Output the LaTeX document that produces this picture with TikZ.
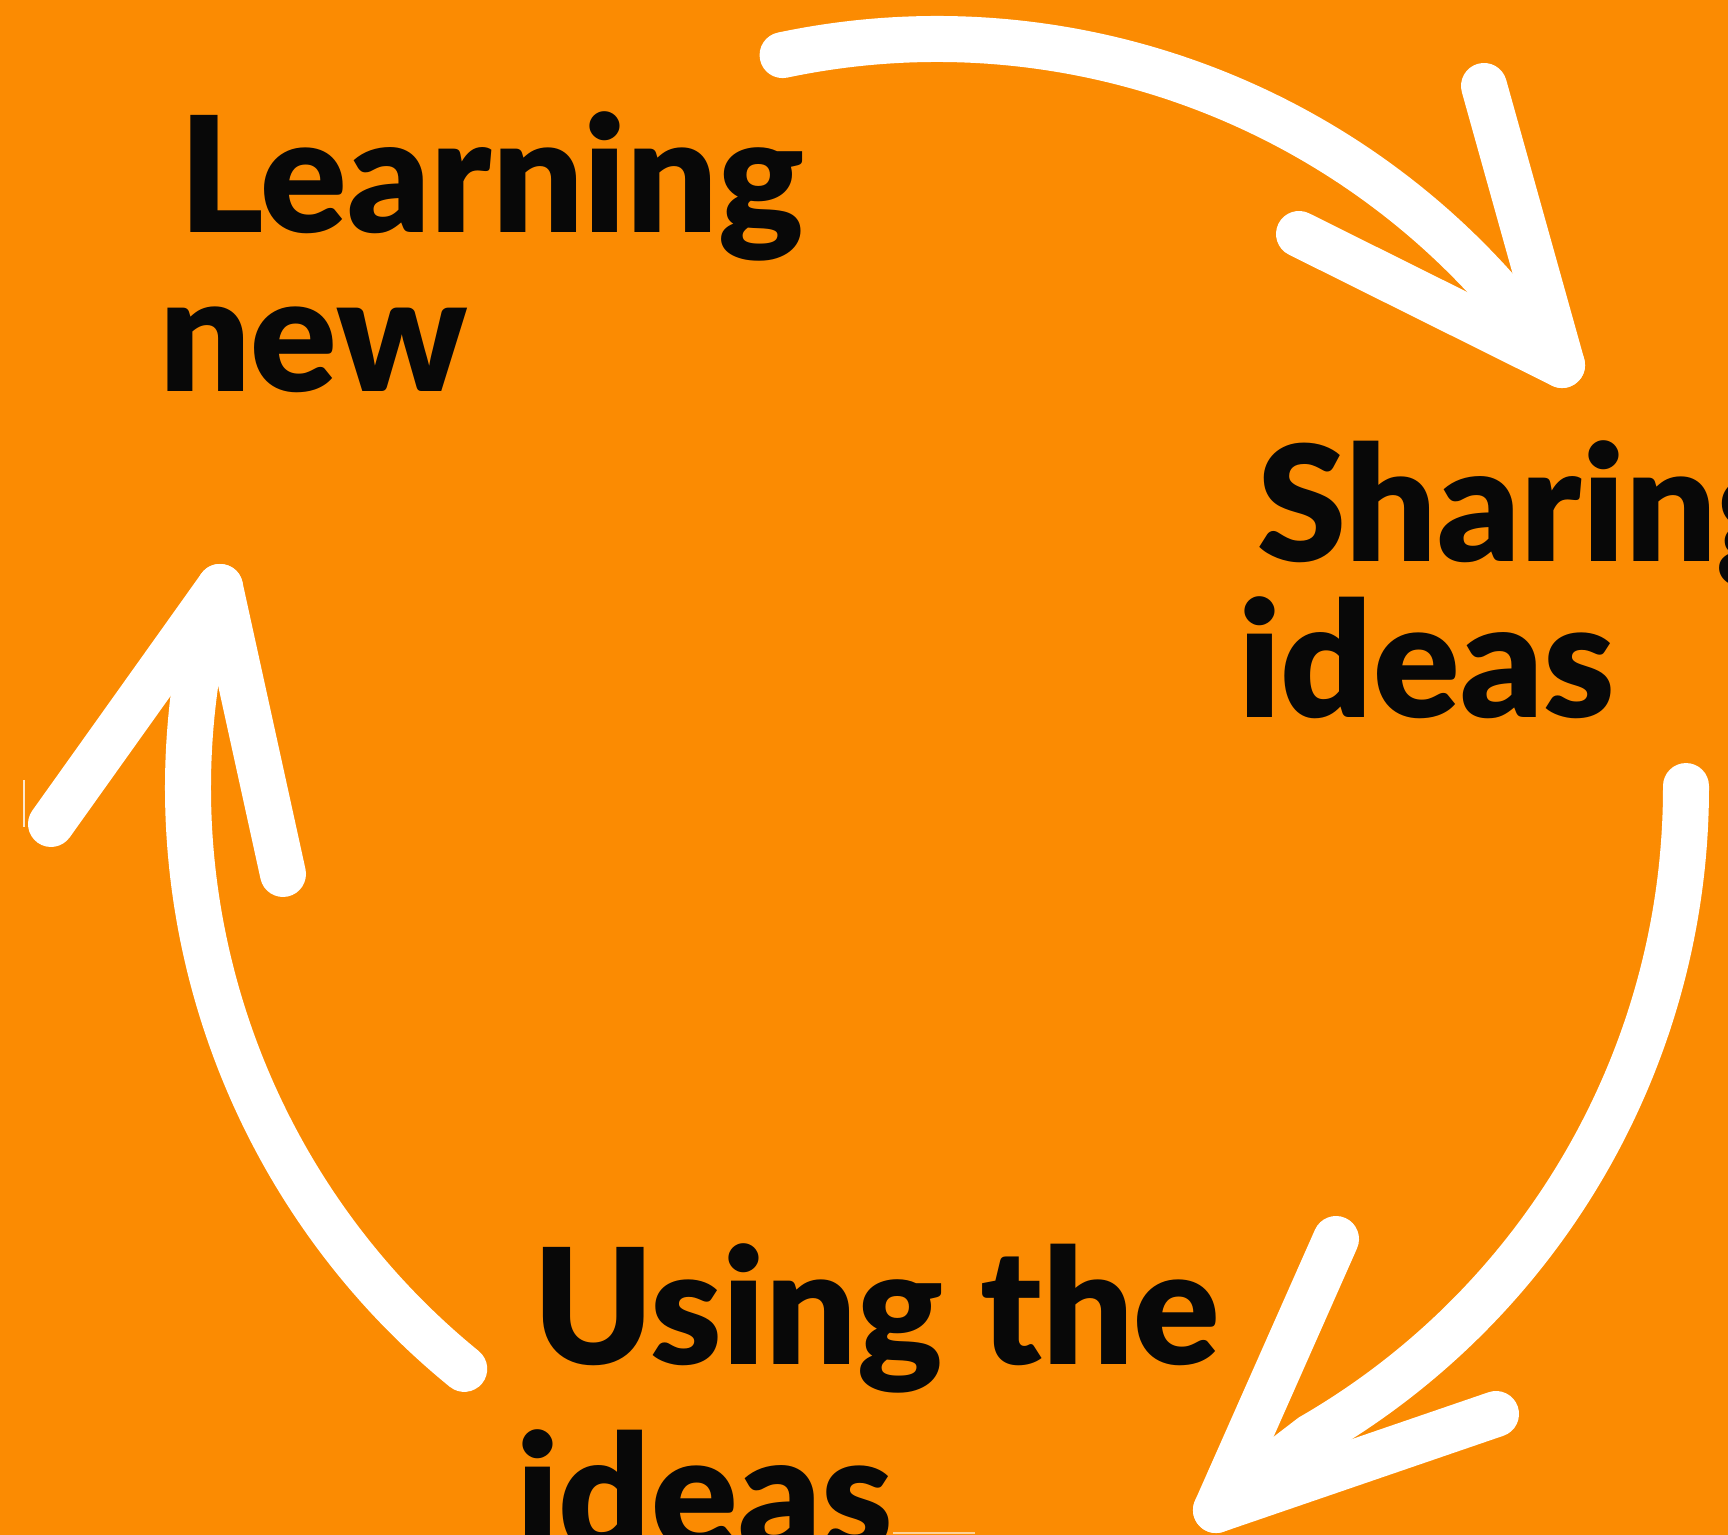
\documentclass[tikz,border=0pt]{standalone}
\usepackage{fontspec}
\IfFontExistsTF{Lato Black}{\newfontfamily\labfont{Lato Black}}{\newfontfamily\labfont{Lato}[UprightFont=* Bold]}
\definecolor{bgorange}{RGB}{251,139,2}
\definecolor{inkblack}{RGB}{8,8,8}
\tikzset{
  arrowline/.style={draw=white, line width=23pt, line cap=round, line join=round},
  lbl/.style={anchor=base west, inner sep=0pt, outer sep=0pt, text=inkblack,
              font=\labfont\fontsize{80.4}{80.4}\selectfont},
}
\begin{document}
\begin{tikzpicture}[x=0.5pt,y=0.5pt]
\useasboundingbox (0,0) rectangle (1728,1535);
\clip (0,0) rectangle (1728,1535);
\fill[bgorange] (0,0) rectangle (1728,1535);

\coordinate (c) at (937,747);
% top arrow
\coordinate (tA) at (1562,1170);
\coordinate (bA1) at (1484,1449);
\coordinate (bA2) at (1299,1301);
% right arrow
\coordinate (tB) at (1216,25);
\coordinate (bB1) at (1336,296);
\coordinate (bB2) at (1496,121);
% left arrow
\coordinate (tC) at (220,948);
\coordinate (bC1) at (51,711);
\coordinate (bC2) at (283,661);

\draw[arrowline] (c) ++(101.9:749) arc[start angle=101.9, end angle=37, radius=749] -- (tA);
\draw[arrowline] (bA1) -- (tA) -- (bA2);

\draw[arrowline] (c) ++(0.15:749) arc[start angle=0.15, end angle=-60, radius=749] -- (tB);
\draw[arrowline] (bB1) -- (tB) -- (bB2);

\draw[arrowline] (c) ++(230.86:749) arc[start angle=230.86, end angle=167, radius=749] -- (tC);
\draw[arrowline] (bC1) -- (tC) -- (bC2);

% faint artifacts
\coordinate (fa1) at (24,755);
\coordinate (fa2) at (24,708);
\draw[white, line width=0.6pt, opacity=0.8] (fa1) -- (fa2);
\coordinate (fb1) at (893,2);
\coordinate (fb2) at (975,2);
\draw[white, line width=0.8pt, opacity=0.6] (fb1) -- (fb2);

% labels
\node[lbl] (l1) at (179,1302.5) {Learning};
\node[lbl] (l2) at (159,1143.8) {new};
\node[lbl] (s1) at (1257.5,973.8) {Sharing};
\node[lbl] (s2) at (1238,817) {ideas};
\node[lbl] (u1) at (533.5,170.5) {Using the};
\node[lbl] (u2) at (516,-16) {ideas};
\end{tikzpicture}
\end{document}
